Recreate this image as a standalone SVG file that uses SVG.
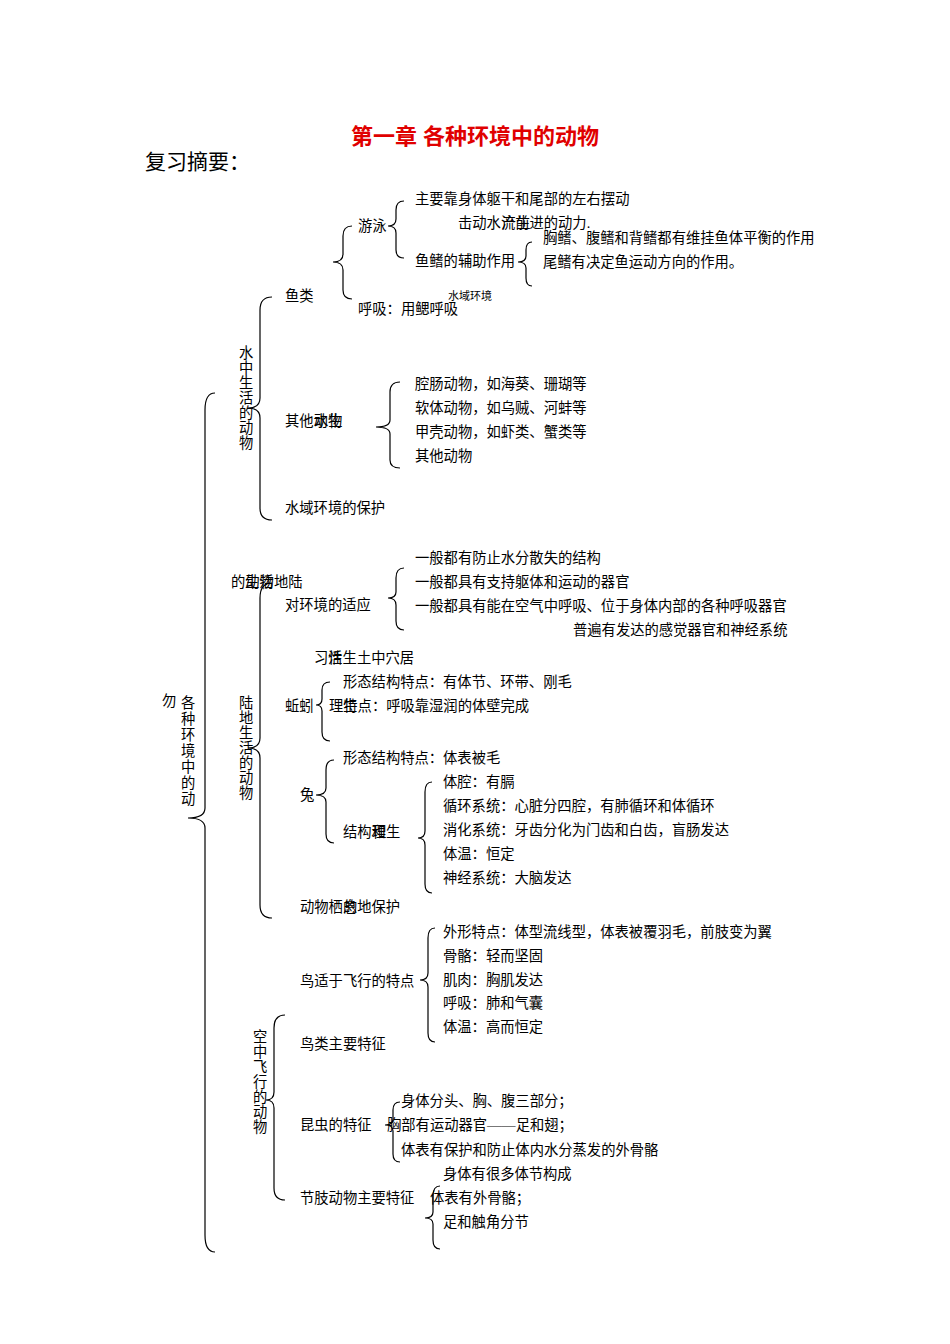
<svg xmlns="http://www.w3.org/2000/svg" width="950" height="1344" viewBox="0 0 950 1344">
<style>
text{font-family:"Liberation Serif","Noto Sans CJK SC",serif;font-size:14.3px;fill:#000}
.b{fill:none;stroke:#000;stroke-width:1.2}
</style>
<rect width="950" height="1344" fill="#fff"/>
<g id="title"><text x="475" y="144" text-anchor="middle" style="font-size:22px;font-weight:bold;fill:#e00000;font-family:'Liberation Sans','Noto Sans CJK SC',sans-serif">第一章 各种环境中的动物</text>
<text x="145" y="169" style="font-size:21px">复习摘要：</text></g>
<g id="connectors">
<path class="b" d="M215,393 Q205,393 205,410 L205,808 Q205,818 188,818 Q205,818 205,828 L205,1235 Q205,1252 215,1252"/>
<path class="b" d="M272,297 Q260,297 260,310 L260,398 Q260,408 248,408 Q260,408 260,418 L260,508 Q260,520 272,520"/>
<path class="b" d="M352,226 Q343,226 343,236 L343,254 Q343,262 333,262 Q343,262 343,270 L343,290 Q343,299 352,299"/>
<path class="b" d="M404,201 Q396,201 396,210 L396,219 Q396,226 388,226 Q396,226 396,233 L396,250 Q396,258 404,258"/>
<path class="b" d="M532,242 Q526,242 526,250 L526,256 Q526,262 518,262 Q526,262 526,268 L526,278 Q526,286 532,286"/>
<path class="b" d="M400,382 Q390,382 390,392 L390,420 Q390,427 376,427 Q390,427 390,434 L390,460 Q390,468 400,468"/>
<path class="b" d="M272,583 Q260,583 260,598 L260,738 Q260,748 248,748 Q260,748 260,758 L260,905 Q260,918 272,918"/>
<path class="b" d="M404,568 Q396,568 396,578 L396,592 Q396,598 388,598 Q396,598 396,605 L396,621 Q396,630 404,630"/>
<path class="b" d="M330,682 Q322,682 322,690 L322,699 Q322,705 316,705 Q322,705 322,711 L322,732 Q322,741 330,741"/>
<path class="b" d="M334,760 Q326,760 326,770 L326,788 Q326,795 316,795 Q326,795 326,802 L326,834 Q326,843 334,843"/>
<path class="b" d="M432,782 Q425,782 425,792 L425,831 Q425,838 418,838 Q425,838 425,845 L425,884 Q425,893 432,893"/>
<path class="b" d="M435,928 Q428,928 428,938 L428,973 Q428,980 420,980 Q428,980 428,987 L428,1033 Q428,1042 435,1042"/>
<path class="b" d="M285,1015 Q274,1015 274,1028 L274,1092 Q274,1100 266,1100 Q274,1100 274,1108 L274,1188 Q274,1200 285,1200"/>
<path class="b" d="M400,1102 Q393,1102 393,1110 L393,1119 Q393,1125 385,1125 Q393,1125 393,1131 L393,1154 Q393,1162 400,1162"/>
<path class="b" d="M440,1186 Q433,1186 433,1196 L433,1212 Q433,1218 425,1218 Q433,1218 433,1224 L433,1240 Q433,1249 440,1249"/>
</g>
<g id="fish">
<text x="285" y="301">鱼类</text>
<text x="358" y="231">游泳</text>
<text x="415" y="204">主要靠身体躯干和尾部的左右摆动</text>
<text x="458" y="228">击动水流前进的动力.</text><text x="502" y="228">产生</text>
<text x="415" y="266">鱼鳍的辅助作用</text>
<text x="543" y="243">胸鳍、腹鳍和背鳍都有维挂鱼体平衡的作用</text>
<text x="543" y="267">尾鳍有决定鱼运动方向的作用。</text>
<text x="448" y="300" style="font-size:11px">水域环境</text>
<text x="358" y="314">呼吸：用鳃呼吸</text>
</g>
<g id="water">
<text x="239" y="358">水</text><text x="239" y="373">中</text><text x="239" y="388">生</text><text x="239" y="403">活</text><text x="239" y="418">的</text><text x="239" y="433">动</text><text x="239" y="448">物</text>
<text x="285" y="426">其他动物</text><text x="314" y="426">水生</text>
<text x="415" y="389">腔肠动物，如海葵、珊瑚等</text>
<text x="415" y="413">软体动物，如乌贼、河蚌等</text>
<text x="415" y="437">甲壳动物，如虾类、蟹类等</text>
<text x="415" y="461">其他动物</text>
<text x="285" y="513">水域环境的保护</text>
</g>
<g id="root">
<text x="162" y="706">勿</text>
<text x="181" y="708">各</text><text x="181" y="724">种</text><text x="181" y="740">环</text><text x="181" y="756">境</text><text x="181" y="772">中</text><text x="181" y="788">的</text><text x="181" y="804">动</text>
</g>
<g id="land">
<text x="231" y="587">的动物地陆</text><text x="245" y="587">生活</text>
<text x="239" y="708">陆</text><text x="239" y="723">地</text><text x="239" y="738">生</text><text x="239" y="753">活</text><text x="239" y="768">的</text><text x="239" y="783">动</text><text x="239" y="798">物</text>
<text x="285" y="610">对环境的适应</text>
<text x="415" y="563">一般都有防止水分散失的结构</text>
<text x="415" y="587">一般都具有支持躯体和运动的器官</text>
<text x="415" y="611">一般都具有能在空气中呼吸、位于身体内部的各种呼吸器官</text>
<text x="573" y="635">普遍有发达的感觉器官和神经系统</text>
<text x="314" y="663">习性生土中穴居</text><text x="328" y="663">活</text>
<text x="285" y="711">蚯蚓</text>
<text x="343" y="687">形态结构特点：有体节、环带、刚毛</text>
<text x="329" y="711">理特点：呼吸靠湿润的体壁完成</text><text x="343" y="711">生</text>
<text x="300" y="800">兔</text>
<text x="343" y="763">形态结构特点：体表被毛</text>
<text x="343" y="837">结构和生</text><text x="372" y="837">理</text>
<text x="443" y="787">体腔：有膈</text>
<text x="443" y="811">循环系统：心脏分四腔，有肺循环和体循环</text>
<text x="443" y="835">消化系统：牙齿分化为门齿和白齿，盲肠发达</text>
<text x="443" y="859">体温：恒定</text>
<text x="443" y="883">神经系统：大脑发达</text>
<text x="300" y="912">动物栖息地保护</text><text x="343" y="912">的</text>
</g>
<g id="air">
<text x="253" y="1042">空</text><text x="253" y="1057">中</text><text x="253" y="1072">飞</text><text x="253" y="1087">行</text><text x="253" y="1102">的</text><text x="253" y="1117">动</text><text x="253" y="1132">物</text>
<text x="300" y="986">鸟适于飞行的特点</text>
<text x="443" y="937">外形特点：体型流线型，体表被覆羽毛，前肢变为翼</text>
<text x="443" y="961">骨骼：轻而坚固</text>
<text x="443" y="985">肌肉：胸肌发达</text>
<text x="443" y="1008">呼吸：肺和气囊</text>
<text x="443" y="1032">体温：高而恒定</text>
<text x="300" y="1049">鸟类主要特征</text>
<text x="300" y="1130">昆虫的特征</text>
<text x="401" y="1106">身体分头、胸、腹三部分；</text>
<text x="387" y="1130">胸部有运动器官——足和翅；</text>
<text x="401" y="1155">体表有保护和防止体内水分蒸发的外骨骼</text>
<text x="443" y="1179">身体有很多体节构成</text>
<text x="300" y="1203">节肢动物主要特征</text>
<text x="430" y="1203">体表有外骨骼；</text>
<text x="443" y="1227">足和触角分节</text>
</g>
</svg>
